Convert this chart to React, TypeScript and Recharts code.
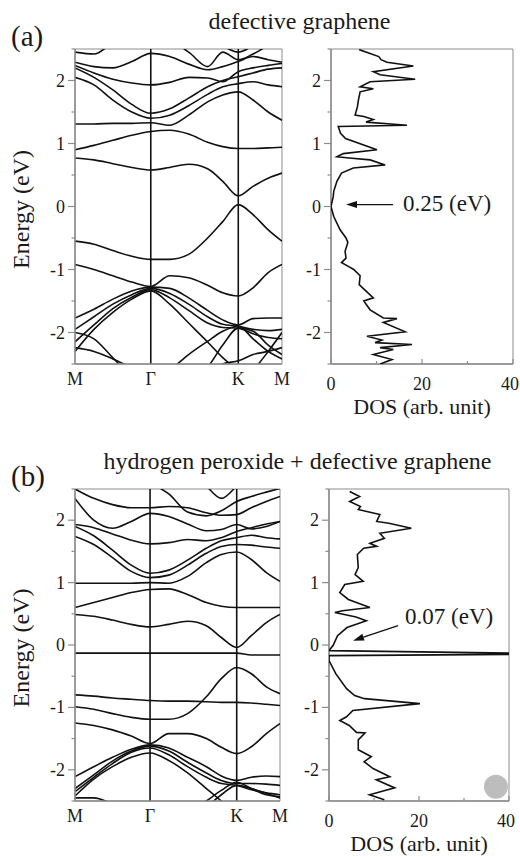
import React from "react";
import {
  LineChart,
  Line,
  ScatterChart,
  Scatter,
  XAxis,
  YAxis,
  ReferenceLine,
  ReferenceArea,
  ReferenceDot,
  Label,
} from "recharts";

const FONT = '"Liberation Serif", "DejaVu Serif", serif';
const INK = "#111";
const FRAME = "#8c8c8c";
const TEXT = "#1a1a1a";

// k path M -> Γ -> K -> M, with |ΓM| = 1
const K_GRID = [0, 0.25, 0.5, 0.75, 1, 1.25, 1.5, 1.75, 1.95, 2.155, 2.35, 2.55, 2.732];
const K_MAX = 2.732;
const K_TICKS = [0, 1, 2.155, 2.732];
const K_LABELS = ["M", "Γ", "K", "M"];
const E_TICKS = [-2.5, -2, -1.5, -1, -0.5, 0, 0.5, 1, 1.5, 2, 2.5];
const DOS_TICKS = [0, 10, 20, 30, 40];

// (a) defective graphene: band energies (eV) on K_GRID
const a_u4 = [2.45, 2.42, 2.6, 2.75, 2.85, 2.85, 2.8, 2.7, 2.55, 2.45, 2.55, 2.65, 2.7];
const a_u3 = [2.7, 2.68, 2.65, 2.62, 2.6, 2.62, 2.45, 2.22, 2.45, 2.33, 2.42, 2.55, 2.6];
const a_u1 = [2.29, 2.22, 2.2, 2.3, 2.43, 2.38, 2.26, 2.17, 2.22, 2.3, 2.38, 2.33, 2.29];
const a_u2 = [2.24, 2.12, 2.02, 1.96, 1.93, 1.97, 2.05, 2.04, 1.98, 2.14, 2.2, 2.24, 2.27];
const a_c5 = [2.2, 2.05, 1.85, 1.62, 1.48, 1.55, 1.72, 1.9, 2.0, 2.06, 2.12, 2.18, 2.2];
const a_c4 = [2.05, 1.93, 1.69, 1.5, 1.4, 1.45, 1.6, 1.78, 1.9, 1.95, 1.98, 1.93, 1.9];
const a_c3 = [1.31, 1.31, 1.32, 1.32, 1.33, 1.29, 1.45, 1.66, 1.77, 1.82, 1.69, 1.5, 1.37];
const a_c2 = [0.9, 0.97, 1.05, 1.13, 1.19, 1.21, 1.15, 1.02, 0.95, 0.92, 0.92, 0.93, 0.94];
const a_c1 = [0.77, 0.74, 0.68, 0.62, 0.58, 0.62, 0.67, 0.6, 0.4, 0.17, 0.32, 0.45, 0.53];
const a_v1 = [-0.55, -0.6, -0.7, -0.79, -0.84, -0.84, -0.76, -0.5, -0.24, 0.03, -0.13, -0.37, -0.55];
const a_v2 = [-0.92, -1.0, -1.1, -1.2, -1.27, -1.1, -1.13, -1.25, -1.37, -1.42, -1.29, -1.05, -0.92];
const a_v3 = [-1.77, -1.63, -1.47, -1.34, -1.28, -1.3, -1.45, -1.65, -1.8, -1.88, -1.78, -1.77, -1.77];
const a_v4 = [-1.95, -1.75, -1.55, -1.4, -1.3, -1.38, -1.55, -1.75, -1.87, -1.9, -1.95, -1.97, -1.95];
const a_v5 = [-2.15, -1.88, -1.62, -1.44, -1.32, -1.45, -1.65, -1.85, -1.92, -1.93, -2.02, -2.08, -2.1];
const a_v6 = [-2.3, -1.95, -1.68, -1.47, -1.34, -1.55, -1.85, -2.15, -2.4, -2.6, -2.7, -2.7, -2.7];
const a_v7 = [-2.24, -2.3, -2.42, -2.56, -2.7, -2.8, -2.8, -2.7, -2.5, -2.45, -2.35, -2.3, -2.24];
const a_v8 = [-2.8, -2.8, -2.8, -2.8, -2.8, -2.6, -2.35, -2.14, -1.98, -1.9, -2.1, -2.3, -2.42];
const a_v9 = [-2.8, -2.8, -2.8, -2.8, -2.8, -2.8, -2.75, -2.55, -2.2, -1.93, -1.98, -2.2, -2.35];
const a_v10 = [-2.0, -2.1, -2.4, -2.7, -2.8, -2.8, -2.8, -2.8, -2.8, -2.8, -2.6, -2.3, -2.0];
const BANDS_A = [a_u4, a_u3, a_u1, a_u2, a_c5, a_c4, a_c3, a_c2, a_c1, a_v1, a_v2, a_v3, a_v4, a_v5, a_v6, a_v7, a_v8, a_v9, a_v10];

// (b) hydrogen peroxide + defective graphene
const b_u4 = [3.0, 3.0, 3.0, 3.0, 3.0, 3.0, 2.9, 2.55, 2.35, 2.55, 2.8, 2.9, 3.0];
const b_u2 = [2.9, 2.9, 2.85, 2.75, 2.6, 2.42, 2.13, 2.07, 2.15, 2.3, 2.38, 2.45, 2.51];
const b_u5 = [2.5, 2.35, 2.25, 2.2, 2.2, 2.22, 2.2, 2.12, 2.08, 2.09, 2.2, 2.3, 2.38];
const b_u1 = [2.35, 2.0, 1.87, 1.98, 2.11, 2.06, 1.94, 1.83, 1.85, 1.93, 1.86, 1.9, 1.98];
const b_c6 = [1.93, 1.88, 1.78, 1.68, 1.62, 1.64, 1.69, 1.67, 1.72, 1.82, 1.88, 1.94, 1.98];
const b_c5 = [1.9, 1.75, 1.52, 1.28, 1.15, 1.2, 1.36, 1.55, 1.67, 1.72, 1.76, 1.72, 1.7];
const b_c4 = [1.74, 1.61, 1.4, 1.18, 1.08, 1.12, 1.28, 1.47, 1.58, 1.61, 1.6, 1.57, 1.55];
const b_c3 = [0.99, 0.99, 0.99, 0.99, 1.0, 0.99, 1.1, 1.32, 1.45, 1.49, 1.37, 1.16, 1.02];
const b_c2 = [0.6, 0.68, 0.76, 0.84, 0.89, 0.9, 0.81, 0.68, 0.62, 0.6, 0.6, 0.6, 0.6];
const b_c1 = [0.49, 0.46, 0.4, 0.33, 0.29, 0.33, 0.38, 0.31, 0.12, -0.04, 0.15, 0.36, 0.49];
const b_flat = [-0.13, -0.13, -0.13, -0.13, -0.13, -0.13, -0.13, -0.13, -0.13, -0.13, -0.16, -0.16, -0.16];
const b_v1 = [-0.8, -0.82, -0.85, -0.87, -0.89, -0.9, -0.9, -0.91, -0.92, -0.92, -0.93, -0.95, -0.97];
const b_v2 = [-0.99, -1.03, -1.1, -1.16, -1.19, -1.19, -1.1, -0.83, -0.54, -0.36, -0.46, -0.67, -0.78];
const b_v3 = [-1.25, -1.29, -1.36, -1.46, -1.58, -1.42, -1.42, -1.5, -1.64, -1.74, -1.63, -1.42, -1.26];
const b_v4 = [-2.11, -1.95, -1.8, -1.67, -1.6, -1.65, -1.8, -1.95, -2.1, -2.17, -2.12, -2.1, -2.11];
const b_v5 = [-2.3, -2.08, -1.86, -1.7, -1.62, -1.7, -1.88, -2.05, -2.17, -2.22, -2.22, -2.23, -2.25];
const b_v6 = [-2.35, -2.12, -1.9, -1.72, -1.65, -1.76, -1.95, -2.12, -2.22, -2.25, -2.32, -2.37, -2.4];
const b_v7 = [-2.42, -2.15, -1.95, -1.8, -1.73, -1.85, -2.05, -2.3, -2.5, -2.7, -2.8, -2.8, -2.8];
const b_v8 = [-2.8, -2.8, -2.8, -2.8, -2.8, -2.8, -2.7, -2.5, -2.33, -2.2, -2.3, -2.4, -2.43];
const b_v9 = [-2.8, -2.8, -2.8, -2.8, -2.8, -2.8, -2.8, -2.6, -2.4, -2.25, -2.3, -2.38, -2.45];
const b_v10 = [-2.45, -2.45, -2.55, -2.7, -2.8, -2.8, -2.8, -2.8, -2.8, -2.8, -2.8, -2.7, -2.5];
const BANDS_B = [b_u4, b_u2, b_u5, b_u1, b_c6, b_c5, b_c4, b_c3, b_c2, b_c1, b_flat, b_v1, b_v2, b_v3, b_v4, b_v5, b_v6, b_v7, b_v8, b_v9, b_v10];

// DOS traces (energy in eV, DOS in arb. unit), top to bottom
const DOS_A_E = [2.49, 2.43, 2.38, 2.33, 2.29, 2.23, 2.14, 2.09, 2.02, 1.98, 1.9, 1.87, 1.82, 1.68, 1.58, 1.45, 1.43, 1.38, 1.34, 1.29, 1.27, 1.16, 1.08, 0.9, 0.84, 0.79, 0.77, 0.74, 0.66, 0.61, 0.53, 0.4, 0.24, 0.16, 0.0, -0.16, -0.37, -0.5, -0.57, -0.71, -0.82, -0.89, -0.95, -1.0, -1.1, -1.24, -1.45, -1.5, -1.64, -1.77, -1.78, -1.84, -1.99, -2.06, -2.12, -2.16, -2.19, -2.24, -2.27, -2.35, -2.43, -2.5];
const DOS_A_V = [6.2, 8.6, 10.5, 11.0, 12.3, 18.1, 9.3, 10.8, 18.5, 8.6, 6.4, 9.3, 6.4, 6.0, 5.8, 5.3, 7.2, 9.3, 7.7, 16.7, 1.6, 2.1, 3.2, 10.1, 2.7, 1.3, 4.0, 8.6, 11.9, 4.9, 2.3, 1.3, 0.6, 0.5, 0.0, 0.6, 2.0, 3.3, 3.7, 3.1, 3.3, 2.3, 3.8, 5.0, 6.4, 6.2, 9.3, 7.2, 8.6, 11.5, 14.5, 11.5, 16.3, 7.9, 11.2, 9.7, 17.8, 10.8, 13.7, 9.3, 13.4, 10.8];
const DOS_B_E = [2.46, 2.38, 2.3, 2.22, 2.17, 2.09, 1.98, 1.95, 1.87, 1.79, 1.71, 1.63, 1.58, 1.55, 1.45, 1.24, 1.13, 1.02, 0.97, 0.84, 0.73, 0.6, 0.55, 0.52, 0.45, 0.39, 0.28, 0.15, -0.01, -0.09, -0.13, -0.15, -0.17, -0.25, -0.46, -0.7, -0.81, -0.86, -0.94, -1.05, -1.15, -1.21, -1.29, -1.4, -1.41, -1.52, -1.68, -1.79, -1.87, -1.98, -2.11, -2.16, -2.29, -2.4, -2.48];
const DOS_B_V = [4.6, 6.8, 4.6, 7.0, 6.5, 11.3, 10.6, 13.3, 18.3, 11.3, 12.3, 9.1, 10.6, 7.7, 6.3, 6.5, 5.8, 7.6, 3.5, 2.4, 4.3, 9.1, 3.0, 1.3, 6.0, 8.3, 4.0, 1.9, 0.9, 0.0, 40, 40, 0.0, 0.0, 1.5, 3.9, 5.7, 7.9, 20.2, 5.3, 3.9, 2.4, 4.5, 6.1, 8.0, 6.5, 6.5, 9.4, 7.8, 9.8, 13.5, 10.5, 14.6, 9.0, 12.3];

const GAP_A = "0.25 (eV)";
const GAP_B = "0.07 (eV)";

const toBand = (band: number[]) => K_GRID.map((k, i) => ({ k, e: band[i] }));
const toDos = (es: number[], vs: number[]) => es.map((e, i) => ({ e, d: vs[i] }));

const ETick = (p: any) => {
  const v = p.payload.value;
  const major = Number.isInteger(v);
  const ax = p.x + 8;
  return (
    <g>
      <line x1={ax - (major ? 7 : 3.5)} x2={ax} y1={p.y} y2={p.y} stroke={FRAME} strokeWidth={1.2} />
      {major && (
        <text x={ax - 10} y={p.y} dy={6} textAnchor="end" fontFamily={FONT} fontSize={18} fill={TEXT}>
          {String(v)}
        </text>
      )}
    </g>
  );
};

const KTick = (p: any) => {
  const i = K_TICKS.indexOf(p.payload.value);
  return (
    <text x={p.x} y={p.y} dy={13} textAnchor="middle" fontFamily={FONT} fontSize={18} fill={TEXT}>
      {K_LABELS[i]}
    </text>
  );
};

const DosTick = (p: any) => {
  const v = p.payload.value;
  const major = v % 20 === 0;
  const last = v === 40;
  const ay = p.y - 8;
  return (
    <g>
      <line x1={p.x} x2={p.x} y1={ay} y2={ay - (major ? 5 : 3)} stroke={FRAME} strokeWidth={1.2} />
      {major && (
        <text
          x={last ? p.x + 6 : p.x}
          y={p.y}
          dy={18}
          textAnchor={last ? "end" : "middle"}
          fontFamily={FONT}
          fontSize={18}
          fill={TEXT}
        >
          {String(v)}
        </text>
      )}
    </g>
  );
};

const energyLabel = (props: any) => {
  const vb = props.viewBox;
  const cy = vb.y + vb.height / 2 + 3;
  return (
    <text transform={`translate(${vb.x + 24}, ${cy}) rotate(-90)`} textAnchor="middle" fontFamily={FONT} fontSize={24} fill={TEXT}>
      Energy (eV)
    </text>
  );
};

const dosLabel = (props: any) => {
  const vb = props.viewBox;
  return (
    <text x={vb.x + vb.width / 2} y={vb.y + 50} textAnchor="middle" fontFamily={FONT} fontSize={22} fill={TEXT}>
      DOS (arb. unit)
    </text>
  );
};

const arrowNote = (label: string, dx: number, dy: number) => (p: any) => {
  const x1 = Number(p.x1), y1 = Number(p.y1), x2 = Number(p.x2), y2 = Number(p.y2);
  const ang = Math.atan2(y2 - y1, x2 - x1);
  const bx = x2 - 11 * Math.cos(ang);
  const by = y2 - 11 * Math.sin(ang);
  const nx = -Math.sin(ang) * 3.5;
  const ny = Math.cos(ang) * 3.5;
  return (
    <g>
      <line x1={x1} y1={y1} x2={bx} y2={by} stroke={INK} strokeWidth={1.4} />
      <polygon points={`${x2},${y2} ${bx + nx},${by + ny} ${bx - nx},${by - ny}`} fill={INK} />
      <text x={x1 + dx} y={y1 + dy} fontFamily={FONT} fontSize={23} fill={TEXT}>
        {label}
      </text>
    </g>
  );
};

function BandPanel({ bands, left, top, width, height }: any) {
  return (
    <div style={{ position: "absolute", left, top }}>
      <LineChart width={width} height={height} margin={{ top: 9, right: 14, bottom: 0, left: 0 }}>
        <XAxis
          type="number"
          dataKey="k"
          domain={[0, K_MAX]}
          ticks={K_TICKS}
          interval={0}
          allowDataOverflow
          height={30}
          tickSize={6}
          tickMargin={2}
          tickLine={false}
          tick={KTick}
          axisLine={{ stroke: FRAME, strokeWidth: 1.5 }}
        />
        <YAxis
          type="number"
          domain={[-2.5, 2.5]}
          ticks={E_TICKS}
          interval={0}
          allowDataOverflow
          width={70}
          tickSize={6}
          tickMargin={2}
          tickLine={false}
          tick={ETick}
          axisLine={{ stroke: FRAME, strokeWidth: 1.5 }}
        >
          <Label content={energyLabel} />
        </YAxis>
        <ReferenceArea x1={0} x2={K_MAX} y1={-2.5} y2={2.5} fill="none" stroke={FRAME} strokeWidth={1} />
        <ReferenceLine x={1} stroke={INK} strokeWidth={1.6} />
        <ReferenceLine x={2.155} stroke={INK} strokeWidth={1.6} />
        {bands.map((b: number[], i: number) => (
          <Line
            key={i}
            data={toBand(b)}
            dataKey="e"
            type="monotone"
            stroke={INK}
            strokeWidth={1.6}
            dot={false}
            activeDot={false}
            isAnimationActive={false}
          />
        ))}
      </LineChart>
    </div>
  );
}

function DosPanel({ data, left, top, width, height, children }: any) {
  return (
    <div style={{ position: "absolute", left, top }}>
      <ScatterChart width={width} height={height} margin={{ top: 9, right: 15, bottom: 0, left: 0 }}>
        <XAxis
          type="number"
          dataKey="d"
          domain={[0, 40]}
          ticks={DOS_TICKS}
          interval={0}
          allowDataOverflow
          height={60}
          tickSize={6}
          tickMargin={2}
          tickLine={false}
          tick={DosTick}
          axisLine={{ stroke: FRAME, strokeWidth: 1.5 }}
        >
          <Label content={dosLabel} />
        </XAxis>
        <YAxis
          type="number"
          dataKey="e"
          domain={[-2.5, 2.5]}
          ticks={E_TICKS}
          interval={0}
          allowDataOverflow
          width={55}
          tickSize={6}
          tickMargin={2}
          tickLine={false}
          tick={ETick}
          axisLine={{ stroke: FRAME, strokeWidth: 1.5 }}
        />
        <ReferenceArea x1={0} x2={40} y1={-2.5} y2={2.5} fill="none" stroke={FRAME} strokeWidth={1} />
        <Scatter
          data={data}
          line={{ stroke: INK, strokeWidth: 1.6 }}
          lineJointType="linear"
          shape={() => <g />}
          isAnimationActive={false}
        />
        {children}
      </ScatterChart>
    </div>
  );
}

export default function App() {
  return (
    <div style={{ position: "absolute", left: 0, top: 0, width: 520, height: 857, overflow: "hidden", background: "#fff" }}>
      <svg width={520} height={857} style={{ position: "absolute", left: 0, top: 0 }}>
        <text x={11} y={46} fontFamily={FONT} fontSize={29} fill={TEXT}>(a)</text>
        <text x={299.5} y={28.5} textAnchor="middle" fontFamily={FONT} fontSize={24} fill={TEXT}>
          defective graphene
        </text>
        <text x={11} y={486} fontFamily={FONT} fontSize={29} fill={TEXT}>(b)</text>
        <text x={297.5} y={469} textAnchor="middle" fontFamily={FONT} fontSize={24} fill={TEXT}>
          hydrogen peroxide + defective graphene
        </text>
      </svg>

      <BandPanel bands={BANDS_A} left={5} top={40} width={291} height={354} />
      <DosPanel data={toDos(DOS_A_E, DOS_A_V)} left={276} top={40} width={252} height={384}>
        <ReferenceLine
          segment={[{ x: 13.65, y: 0.03 }, { x: 3.3, y: 0.03 }]}
          shape={arrowNote(GAP_A, 10, 6)}
        />
      </DosPanel>

      <BandPanel bands={BANDS_B} left={5} top={480} width={289} height={351} />
      <DosPanel data={toDos(DOS_B_E, DOS_B_V)} left={274} top={480} width={250} height={381}>
        <ReferenceLine
          segment={[{ x: 15.36, y: 0.31 }, { x: 5.34, y: 0.07 }]}
          shape={arrowNote(GAP_B, 7, -2)}
        />
        <ReferenceDot x={37.1} y={-2.27} r={12} fill="#bdbdbd" stroke="none" ifOverflow="visible" />
      </DosPanel>
    </div>
  );
}
